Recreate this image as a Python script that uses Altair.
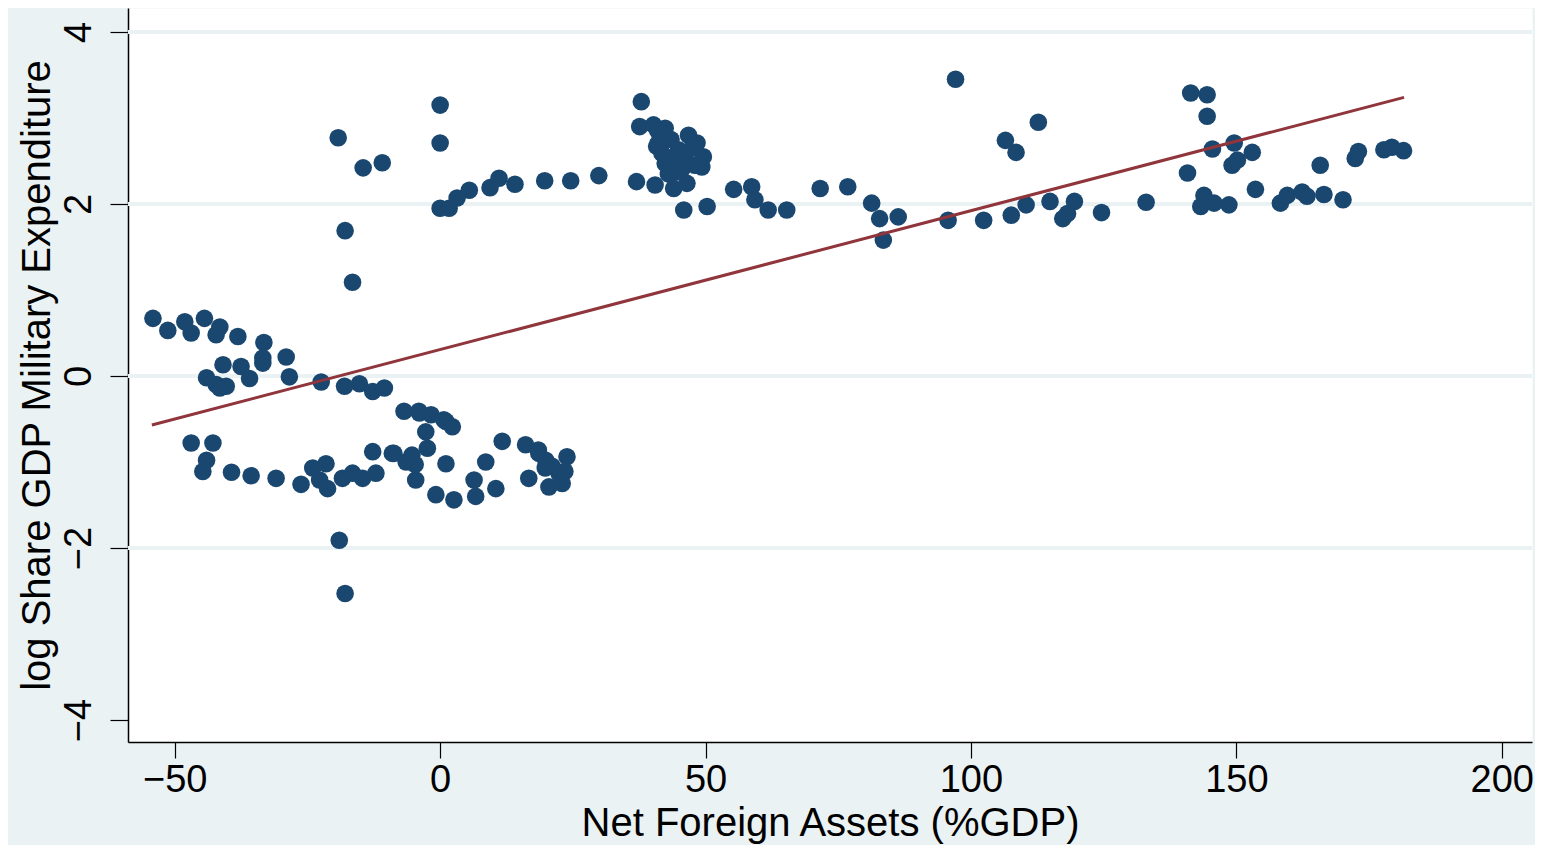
import altair as alt
import pandas as pd

# Scatter data: Net Foreign Assets (%GDP) vs log share of GDP military expenditure
nfa = [
    -54.1, -51.3, -48.1, -46.9, -44.4, -42.2, -41.5, -38.1, -33.2,
    -44.0, -40.9, -41.5, -40.3, -37.5, -35.9, -33.4, -29.0, -28.4,
    -22.4, -18.0, -15.2, -12.7, -10.5,
    -6.8, -3.9, -1.7, 2.3, 1.1, -2.7, -2.4,
    -12.7, -9.0, -6.4, -4.6, 1.1, -0.8, 2.6, 6.7, 6.4, 8.6, 10.5, 11.7, 16.1, 16.7,
    18.6, 20.5, 23.0, 23.9, 21.1, 22.4, 19.9,
    -4.0, 0.7, -8.7, -5.3, -4.7, 18.5, 19.8, 23.5, -33.4, -42.2,
    -46.9, -42.8, -44.0, -44.7, -39.3, -35.6, -30.9, -26.2, -24.0, -21.5, -22.7,
    -21.2, -18.4, -16.5, -14.6, -12.1, -19.0, -17.9,
    -19.2, -17.9, -16.5, -14.5, -10.9,
    0.0, 0.0, 0.0, 1.7, 3.2, 5.5, 9.4, 11.1, 14.1, 19.7, 24.6, 29.9,
    37.9, 37.6, 40.2, 42.4, 40.8, 42.4, 41.8, 46.8, 48.4, 49.6, 49.3, 46.2, 44.9,
    44.3, 37.0, 40.5, 44.0, 46.5, 45.9, 50.3, 55.3, 58.7, 59.3, 61.8, 65.3, 71.6,
    76.8, 81.3, 82.8, 86.3, 83.5,
    43.5, 47.5, 45.5, 43.0, 48.0, 41.0, 44.3, 48.6, 41.1,
    97.1, 95.7, 102.4, 107.6, 110.4, 106.5, 108.5, 112.7, 114.9, 117.3, 119.5,
    118.2, 124.6, 133.0, 140.8, 141.4, 144.5, 144.5, 145.5, 149.6, 153.0, 149.2,
    150.2, 143.9, 143.3, 145.8, 148.6, 153.6, 158.3, 159.6, 162.4, 163.3, 166.5,
    170.1, 165.8, 172.4, 173.0, 177.8, 179.3, 181.5,
]
milex = [
    0.67, 0.53, 0.63, 0.50, 0.67, 0.48, 0.57, 0.46, 0.39,
    -0.02, 0.13, -0.14, -0.12, 0.11, -0.03, 0.15, 0.22, -0.01,
    -0.07, -0.12, -0.09, -0.18, -0.14,
    -0.41, -0.43, -0.45, -0.59, -0.53, -0.65, -0.84,
    -0.88, -0.90, -1.00, -1.21, -1.02, -1.38, -1.44, -1.40, -1.21, -1.00, -1.31, -0.76, -0.80, -1.19,
    -0.90, -1.29, -1.25, -0.94, -1.05, -1.13, -0.98,
    -0.41, -0.51, -0.90, -0.92, -1.03, -0.86, -1.07, -1.11, 0.21, -0.10,
    -0.78, -0.78, -0.98, -1.11, -1.12, -1.16, -1.19, -1.26, -1.07, -1.02, -1.21,
    -1.31, -1.19, -1.13, -1.19, -1.13, -1.91, -2.53,
    2.77, 1.69, 1.09, 2.42, 2.48,
    3.15, 2.71, 1.95, 1.95, 2.07, 2.16, 2.19, 2.30, 2.23, 2.27, 2.27, 2.33,
    3.19, 2.90, 2.92, 2.88, 2.67, 2.47, 2.59, 2.80, 2.71, 2.55, 2.43, 2.51, 2.63,
    2.51, 2.26, 2.22, 2.18, 2.24, 1.93, 1.97, 2.17, 2.20, 2.05, 1.93, 1.93, 2.18,
    2.20, 2.01, 1.83, 1.85, 1.58,
    2.75, 2.65, 2.40, 2.35, 2.45, 2.85, 2.37, 2.45, 2.71,
    3.45, 1.81, 1.81, 1.87, 1.99, 2.74, 2.60, 2.95, 2.03, 1.83, 2.03,
    1.89, 1.90, 2.02, 2.36, 3.29, 3.27, 3.02, 2.64, 2.71, 2.60, 2.45,
    2.51, 2.10, 1.97, 2.01, 1.99, 2.17, 2.01, 2.10, 2.14, 2.09, 2.11,
    2.05, 2.45, 2.53, 2.61, 2.63, 2.66, 2.62,
]

# Fitted line end points
fit_x = [-54.3, 181.6]
fit_y = [-0.57, 3.24]

# Axis ticks
x_ticks = [-50, 0, 50, 100, 150, 200]
y_ticks = [-4, -2, 0, 2, 4]
grid_y = [-2, 0, 2, 4]

pts = pd.DataFrame({"nfa": nfa, "milex": milex})
fit = pd.DataFrame({"nfa": fit_x, "milex": fit_y})
grid = pd.DataFrame({"g": grid_y})

FONT = "Liberation Sans"
BG = "#EAF2F3"

xscale = alt.Scale(domain=[-58.8, 205.7], nice=False, zero=False)
yscale = alt.Scale(domain=[-4.256, 4.279], nice=False, zero=False)

xaxis = alt.Axis(
    values=x_ticks, grid=False, title="Net Foreign Assets (%GDP)",
    domainColor="#000000", domainWidth=1.5, tickColor="#000000", tickWidth=1.2,
    tickSize=16, labelFontSize=38, labelColor="#000000", labelFont=FONT,
    labelPadding=3, titleFont=FONT, titleFontSize=40, titleFontWeight="normal",
    titleColor="#000000", titlePadding=4, labelFlush=False, labelOverlap=False,
)
yaxis = alt.Axis(
    values=y_ticks, grid=False, title="log Share GDP Military Expenditure",
    domainColor="#000000", domainWidth=1.5, tickColor="#000000", tickWidth=1.2,
    tickSize=18, labelFontSize=38, labelColor="#000000", labelFont=FONT,
    labelAngle=270, labelAlign="center", labelBaseline="bottom",
    labelPadding=12, titleFont=FONT, titleFontSize=40, titleFontWeight="normal",
    titleColor="#000000", titlePadding=3, labelFlush=False, labelOverlap=False,
)

gridlines = alt.Chart(grid).mark_rule(color=BG, strokeWidth=4).encode(
    y=alt.Y("g:Q", scale=yscale, axis=yaxis)
)

points = alt.Chart(pts).mark_circle(size=310, color="#1a476f", opacity=1).encode(
    x=alt.X("nfa:Q", scale=xscale, axis=xaxis),
    y=alt.Y("milex:Q", scale=yscale, axis=yaxis),
)

line = alt.Chart(fit).mark_line(color="#90353b", strokeWidth=3).encode(
    x=alt.X("nfa:Q", scale=xscale, axis=xaxis),
    y=alt.Y("milex:Q", scale=yscale, axis=yaxis),
)

chart = alt.layer(gridlines, points, line).properties(
    width=1404,
    height=734,
    padding={"left": 120, "top": 0, "right": 3, "bottom": 103},
    autosize="none",
    background=BG,
).configure_view(fill="white", strokeOpacity=0)

chart.save("out.html", embed_options={"renderer": "svg", "actions": False})
